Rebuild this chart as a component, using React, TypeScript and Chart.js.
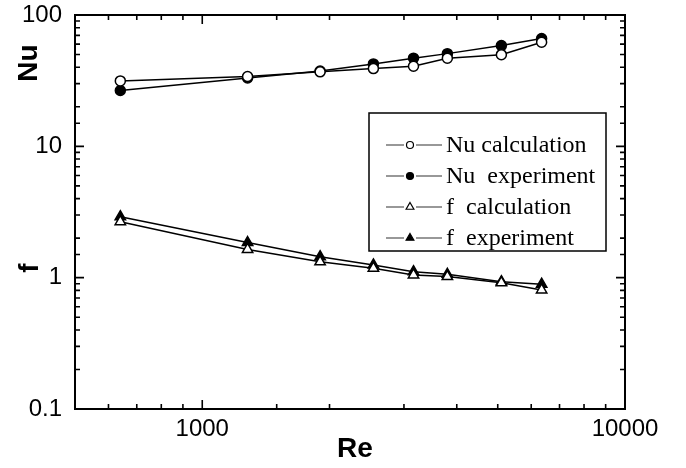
import React, { useEffect, useRef } from "react";
import { Chart, registerables } from "chart.js";

Chart.register(...registerables);

const reValues = [640, 1280, 1900, 2540, 3160, 3800, 5100, 6350];
const nuCalc = [31.5, 34.0, 36.9, 39.1, 40.7, 46.9, 49.9, 62.1];
const nuExp = [26.6, 33.2, 37.5, 42.4, 46.9, 50.8, 58.5, 66.1];
const fCalc = [2.67, 1.64, 1.32, 1.18, 1.05, 1.02, 0.916, 0.806];
const fExp = [2.91, 1.85, 1.445, 1.25, 1.11, 1.06, 0.932, 0.891];

const seriesLabels = ["Nu calculation", "Nu  experiment", "f  calculation", "f  experiment"];
const xRange = [500, 10000];
const yRange = [0.1, 100];

const isPow10 = (v: number) => {
  const l = Math.log10(v);
  return Math.abs(l - Math.round(l)) < 1e-9;
};

const toPts = (ys: number[]) => reValues.map((x, i) => ({ x, y: ys[i] }));

const framePlugin = {
  id: "frame",
  afterDraw(chart: any) {
    const ctx = chart.ctx;
    const { left, right, top, bottom } = chart.chartArea;
    const xs = chart.scales.x;
    const ys = chart.scales.y;
    ctx.save();
    ctx.strokeStyle = "#000";
    ctx.lineWidth = 2;
    ctx.strokeRect(left, top, right - left, bottom - top);
    ctx.lineWidth = 1.6;
    ctx.beginPath();
    xs.ticks.forEach((t: any) => {
      const px = xs.getPixelForValue(t.value);
      if (px <= left + 1 || px >= right - 1) return;
      const len = isPow10(t.value) ? 9 : 5;
      ctx.moveTo(px, bottom);
      ctx.lineTo(px, bottom - len);
      ctx.moveTo(px, top);
      ctx.lineTo(px, top + len);
    });
    ys.ticks.forEach((t: any) => {
      const py = ys.getPixelForValue(t.value);
      if (py <= top + 1 || py >= bottom - 1) return;
      const len = isPow10(t.value) ? 9 : 5;
      ctx.moveTo(left, py);
      ctx.lineTo(left + len, py);
      ctx.moveTo(right, py);
      ctx.lineTo(right - len, py);
    });
    ctx.stroke();

    // axis titles
    ctx.fillStyle = "#000";
    ctx.font = "bold 28px 'Liberation Sans'";
    ctx.textAlign = "center";
    ctx.textBaseline = "middle";
    ctx.fillText("Re", 355, 449);
    ctx.save();
    ctx.translate(29, 63);
    ctx.rotate(-Math.PI / 2);
    ctx.fillText("Nu", 0, 0);
    ctx.restore();
    ctx.save();
    ctx.translate(30, 268);
    ctx.rotate(-Math.PI / 2);
    ctx.fillText("f", 0, 0);
    ctx.restore();

    // legend
    ctx.lineWidth = 1.5;
    ctx.strokeRect(369, 113, 237, 138);
    chart.data.datasets.forEach((ds: any, i: number) => {
      const y = 145 + i * 31;
      ctx.strokeStyle = "#333";
      ctx.lineWidth = 1.2;
      ctx.beginPath();
      ctx.moveTo(386, y);
      ctx.lineTo(404, y);
      ctx.moveTo(416, y);
      ctx.lineTo(442, y);
      ctx.stroke();
      ctx.fillStyle = ds.pointBackgroundColor;
      ctx.strokeStyle = "#000";
      ctx.lineWidth = 1.2;
      ctx.beginPath();
      const mx = 410;
      if (ds.pointStyle === "circle") {
        ctx.arc(mx, y, 3.5, 0, Math.PI * 2);
      } else {
        const r = 4.5;
        ctx.moveTo(mx, y - r);
        ctx.lineTo(mx + r * 0.866, y + r * 0.5);
        ctx.lineTo(mx - r * 0.866, y + r * 0.5);
        ctx.closePath();
      }
      ctx.fill();
      ctx.stroke();
      ctx.fillStyle = "#000";
      ctx.font = "24px 'Liberation Serif'";
      ctx.textAlign = "left";
      ctx.textBaseline = "middle";
      ctx.fillText(ds.label, 446, y + 1);
    });
    ctx.restore();
  },
};

export default function App() {
  const ref = useRef<HTMLCanvasElement>(null);
  useEffect(() => {
    if (!ref.current) return;
    const mk = (label: string, ys: number[], style: string, filled: boolean) => ({
      label,
      data: toPts(ys),
      borderColor: "#000",
      borderWidth: 1.5,
      pointStyle: style,
      pointRadius: style === "circle" ? 5 : 6,
      pointBackgroundColor: filled ? "#000" : "#fff",
      pointBorderColor: "#000",
      pointBorderWidth: 1.5,
      fill: false,
      tension: 0,
    });
    const chart = new Chart(ref.current, {
      type: "line",
      data: {
        datasets: [
          mk(seriesLabels[0], nuCalc, "circle", false),
          mk(seriesLabels[1], nuExp, "circle", true),
          mk(seriesLabels[2], fCalc, "triangle", false),
          mk(seriesLabels[3], fExp, "triangle", true),
        ] as any,
      },
      options: {
        responsive: false,
        animation: false,
        layout: { padding: { left: 0, top: 15, right: 61, bottom: 0 } },
        plugins: { legend: { display: false }, tooltip: { enabled: false } },
        scales: {
          x: {
            type: "logarithmic",
            min: xRange[0],
            max: xRange[1],
            grid: { display: false, drawTicks: false },
            border: { display: false },
            ticks: {
              autoSkip: false,
              maxRotation: 0,
              padding: 6,
              color: "#000",
              font: { family: "'Liberation Sans'", size: 24 },
              callback: (v: any) => (isPow10(Number(v)) ? String(Number(v)) : ""),
            },
            afterFit: (s: any) => {
              s.height = 59;
              s.paddingLeft = 0;
              s.paddingRight = 0;
            },
          },
          y: {
            type: "logarithmic",
            min: yRange[0],
            max: yRange[1],
            grid: { display: false, drawTicks: false },
            border: { display: false },
            ticks: {
              autoSkip: false,
              padding: 13,
              color: "#000",
              font: { family: "'Liberation Sans'", size: 24 },
              callback: (v: any) => (isPow10(Number(v)) ? String(Number(v)) : ""),
            },
            afterFit: (s: any) => {
              s.width = 75;
              s.paddingTop = 0;
              s.paddingBottom = 0;
            },
          },
        },
      },
      plugins: [framePlugin],
    });
    return () => chart.destroy();
  }, []);
  return (
    <div style={{ position: "absolute", left: 0, top: 0, width: 686, height: 468, background: "#fff" }}>
      <canvas ref={ref} width={686} height={468} />
    </div>
  );
}
